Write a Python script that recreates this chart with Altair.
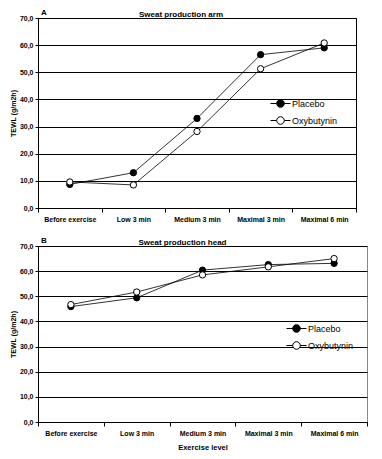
import altair as alt
import pandas as pd

stages = ["Before exercise", "Low  3 min", "Medium 3 min", "Maximal 3 min", "Maximal 6 min"]
treatments = ["Placebo", "Oxybutynin"]

arm_placebo = [8.7, 13.0, 33.0, 56.5, 59.0]
arm_oxybutynin = [9.6, 8.5, 28.2, 51.3, 60.8]
head_placebo = [45.9, 49.4, 60.4, 62.6, 63.1]
head_oxybutynin = [46.7, 51.7, 58.5, 61.7, 65.0]

FONT = "Liberation Sans"
SYM = "M-1,0L-0.38,0M0.38,0L1,0M-0.38,0A0.38,0.38,0,1,1,0.38,0A0.38,0.38,0,1,1,-0.38,0Z"


def make_df(placebo, oxy):
    rows = []
    for t, vals in zip(treatments, [placebo, oxy]):
        for i, (s, v) in enumerate(zip(stages, vals)):
            rows.append({"stage": s, "idx": i, "treatment": t, "value": v})
    return pd.DataFrame(rows)


def panel(df, letter, title, width, height, lx, ly, dx, xtitle, frame):
    x = alt.X(
        "stage:N", sort=stages, bandPosition=0.5,
        scale=alt.Scale(type="band", paddingInner=0, paddingOuter=0),
        axis=alt.Axis(
            title=xtitle, tickBand="extent", labelAngle=0, grid=False,
            labelFont=FONT, labelFontSize=7, labelFontWeight="bold", labelColor="black",
            domainColor="black", tickColor="black", tickSize=4, labelPadding=3,
            titleFont=FONT, titleFontSize=7.5, titleFontWeight="bold", titleColor="black",
            titlePadding=7,
        ),
    )
    y = alt.Y(
        "value:Q",
        scale=alt.Scale(domain=[0, 70], nice=False),
        axis=alt.Axis(
            title="TEWL (g/m2h)", values=list(range(0, 71, 10)),
            labelExpr="replace(format(datum.value, '.1f'), '.', ',')",
            labelFont=FONT, labelFontSize=7, labelFontWeight="bold", labelColor="black",
            domainColor="black", tickColor="black", tickSize=3, labelPadding=2,
            grid=True, gridColor="black", gridWidth=1, gridOpacity=1,
            titleFont=FONT, titleFontSize=7, titleFontWeight="bold", titleColor="black",
            titlePadding=3,
        ),
    )
    base = alt.Chart(df)
    line = base.mark_line(color="black", strokeWidth=0.8).encode(
        x=x, y=y, detail="treatment:N", order=alt.Order("idx:Q")
    )
    pts = base.mark_point(filled=True, size=40, stroke="black", strokeWidth=1, opacity=1).encode(
        x=x, y=y,
        fill=alt.Fill(
            "treatment:N", sort=treatments,
            scale=alt.Scale(domain=treatments, range=["black", "white"]),
            legend=alt.Legend(
                title=None, orient="none", legendX=lx, legendY=ly,
                symbolType=SYM, symbolSize=400, symbolStrokeColor="black",
                symbolStrokeWidth=1, labelFont=FONT, labelFontSize=9,
                labelColor="black", labelOffset=1, rowPadding=-6,
            ),
        ),
    )
    lab = alt.Chart(pd.DataFrame({"t": [letter]})).mark_text(
        font=FONT, fontSize=8, fontWeight="bold", color="black", align="left", baseline="middle"
    ).encode(text="t:N", x=alt.value(3), y=alt.value(-5))
    return alt.layer(line, pts, lab).properties(
        width=width, height=height,
        title=alt.TitleParams(text=title, font=FONT, fontSize=8, fontWeight="bold",
                              anchor="middle", dx=dx, dy=13, offset=3, color="black"),
        view=alt.ViewBackground(stroke=frame, strokeWidth=1),
    )


arm = panel(make_df(arm_placebo, arm_oxybutynin), "A", "Sweat production arm",
            318, 190, 232, 75, -16, None, "black")
head = panel(make_df(head_placebo, head_oxybutynin), "B", "Sweat production head",
             329, 176, 248, 72, -20, "Exercise level", "#888888")

chart = alt.vconcat(arm, head, spacing=13).resolve_scale(fill="independent").resolve_legend(
    fill="independent"
).properties(padding={"left": 0, "top": 0, "right": 0, "bottom": 0}).configure(background="white")

chart.save("out.html", embed_options={"renderer": "svg", "actions": False})
